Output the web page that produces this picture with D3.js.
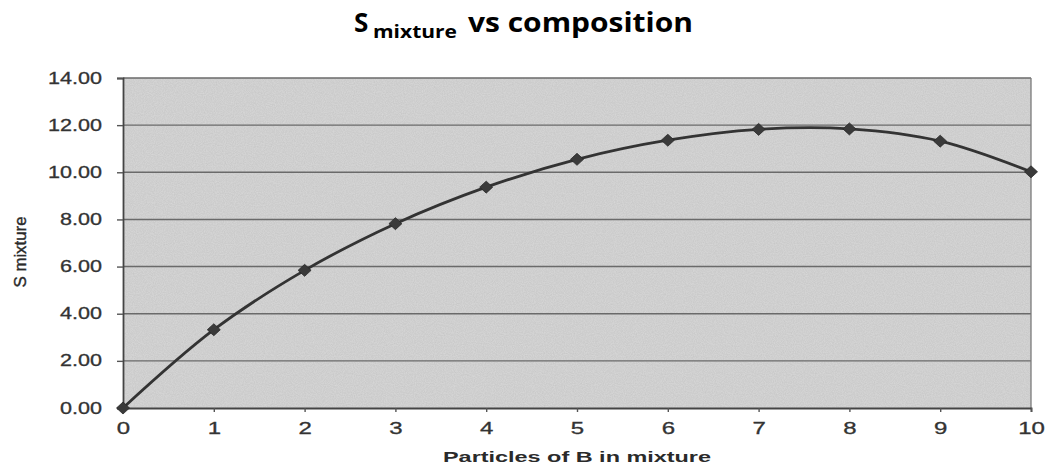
<!DOCTYPE html>
<html>
<head>
<meta charset="utf-8">
<script src="https://cdn.jsdelivr.net/npm/d3@7"></script>
<style>
  body { margin: 0; background: #fff; }
  text { font-family: "Liberation Sans", Arial, sans-serif; fill: #333; }
</style>
</head>
<body>
<div id="chart"></div>
<script>
const width = 1045;
const height = 464;

// data
const particles = [0, 1, 2, 3, 4, 5, 6, 7, 8, 9, 10];
const sMixture = [0, 3.32, 5.84, 7.82, 9.37, 10.55, 11.36, 11.82, 11.84, 11.32, 10.02];
const yTicks = [0, 2, 4, 6, 8, 10, 12, 14];

// plot area
const plotLeft = 123, plotRight = 1031, plotTop = 78, plotBottom = 408;

const svg = d3.select('#chart')
  .append('svg')
  .attr('width', width)
  .attr('height', height);

// grainy grey fill like the scanned original
const defs = svg.append('defs');
const noise = defs.append('filter').attr('id', 'grain')
  .attr('x', 0).attr('y', 0).attr('width', '100%').attr('height', '100%');
noise.append('feTurbulence')
  .attr('type', 'fractalNoise')
  .attr('baseFrequency', 0.9)
  .attr('numOctaves', 2)
  .attr('seed', 3);
noise.append('feColorMatrix')
  .attr('type', 'matrix')
  .attr('values', '0 0 0 0 0  0 0 0 0 0  0 0 0 0 0  0 0 0 0.35 0');

const x = d3.scaleLinear().domain([0, 10]).range([plotLeft, plotRight]);
const y = d3.scaleLinear().domain([0, 14]).range([plotBottom, plotTop]);

svg.append('rect')
  .attr('x', plotLeft).attr('y', plotTop)
  .attr('width', plotRight - plotLeft).attr('height', plotBottom - plotTop)
  .style('fill', '#d9d9d9');
svg.append('rect')
  .attr('x', plotLeft).attr('y', plotTop)
  .attr('width', plotRight - plotLeft).attr('height', plotBottom - plotTop)
  .attr('filter', 'url(#grain)')
  .style('opacity', 0.25);

// gridlines
svg.append('g')
  .selectAll('line')
  .data(yTicks.filter(d => d > 0))
  .enter()
  .append('line')
  .attr('x1', plotLeft).attr('x2', plotRight)
  .attr('y1', d => y(d)).attr('y2', d => y(d))
  .style('stroke', '#6a6a6a')
  .style('stroke-width', 1.4);

// right border
svg.append('line')
  .attr('x1', plotRight).attr('x2', plotRight)
  .attr('y1', plotTop).attr('y2', plotBottom)
  .style('stroke', '#7a7a7a')
  .style('stroke-width', 1.3);

// y axis
const yAxis = svg.append('g')
  .attr('transform', `translate(${plotLeft},0)`)
  .call(d3.axisLeft(y).tickValues(yTicks).tickSize(6).tickFormat(d3.format('.2f')));
yAxis.select('.domain').style('stroke', '#444').style('stroke-width', 1.8);
yAxis.selectAll('.tick line').style('stroke', '#555').style('stroke-width', 1.4);
yAxis.selectAll('.tick text')
  .attr('x', -15.5)
  .attr('transform', 'scale(1.35,1)')
  .style('font-size', '16px')
  .style('fill', '#333')
  .style('stroke', '#333')
  .style('stroke-width', 0.3);

// x axis
const xAxis = svg.append('g')
  .attr('transform', `translate(0,${plotBottom})`)
  .call(d3.axisBottom(x).tickValues(particles).tickSize(4).tickFormat(d3.format('d')));
xAxis.select('.domain').style('stroke', '#444').style('stroke-width', 1.8);
xAxis.selectAll('.tick line').style('stroke', '#555').style('stroke-width', 1.4);
xAxis.selectAll('.tick text')
  .attr('y', 15)
  .attr('transform', 'scale(1.5,1)')
  .style('font-size', '16px')
  .style('fill', '#333')
  .style('stroke', '#333')
  .style('stroke-width', 0.3);

// axis titles
svg.append('text')
  .attr('x', (plotLeft + plotRight) / 2)
  .attr('y', 462)
  .attr('text-anchor', 'middle')
  .attr('textLength', 268)
  .attr('lengthAdjust', 'spacingAndGlyphs')
  .style('font-size', '15px')
  .style('font-weight', 'bold')
  .style('fill', '#2a2a2a')
  .text('Particles of B in mixture');

svg.append('text')
  .attr('transform', 'translate(26,252) rotate(-90)')
  .attr('text-anchor', 'middle')
  .attr('textLength', 71)
  .attr('lengthAdjust', 'spacingAndGlyphs')
  .style('font-size', '17px')
  .style('fill', '#2a2a2a')
  .style('stroke', '#2a2a2a')
  .style('stroke-width', 0.4)
  .text('S mixture');

// title: S with subscript
const title = svg.append('g').style('font-family', '"Open Sans", "Noto Sans", sans-serif');
title.append('text')
  .attr('x', 354).attr('y', 32)
  .style('font-family', 'inherit')
  .style('font-size', '26px')
  .style('font-weight', 'bold')
  .style('fill', '#000')
  .text('S');
title.append('text')
  .attr('x', 373).attr('y', 38)
  .attr('textLength', 84)
  .attr('lengthAdjust', 'spacingAndGlyphs')
  .style('font-family', 'inherit')
  .style('font-size', '17px')
  .style('font-weight', 'bold')
  .style('fill', '#000')
  .text('mixture');
title.append('text')
  .attr('x', 468).attr('y', 32)
  .attr('textLength', 225)
  .attr('lengthAdjust', 'spacingAndGlyphs')
  .style('font-family', 'inherit')
  .style('font-size', '26px')
  .style('font-weight', 'bold')
  .style('fill', '#000')
  .text('vs composition');

// smoothed line through the points
const line = d3.line()
  .x((d, i) => x(particles[i]))
  .y(d => y(d))
  .curve(d3.curveCatmullRom.alpha(0.5));

svg.append('path')
  .datum(sMixture)
  .attr('d', line)
  .style('fill', 'none')
  .style('stroke', '#333')
  .style('stroke-width', 2.8);

// diamond markers
svg.selectAll('.marker')
  .data(sMixture)
  .enter()
  .append('path')
  .attr('class', 'marker')
  .attr('transform', (d, i) => `translate(${x(particles[i])},${y(d)})`)
  .attr('d', 'M0,-6L6.5,0L0,6L-6.5,0Z')
  .style('fill', '#3a3a3a')
  .style('stroke', '#2a2a2a')
  .style('stroke-width', 0.8);
</script>
</body>
</html>
